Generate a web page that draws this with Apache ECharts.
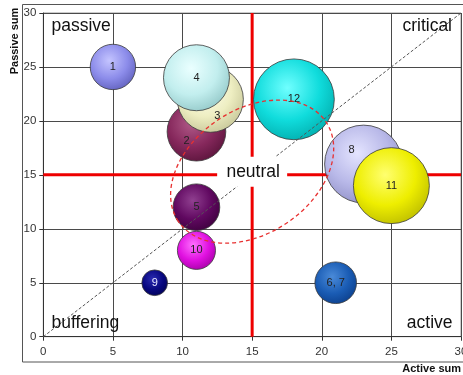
<!DOCTYPE html>
<html>
<head>
<meta charset="utf-8">
<script src="https://cdn.jsdelivr.net/npm/echarts@6/dist/echarts.min.js"></script>
<style>
  html, body { margin: 0; padding: 0; background: #fff; }
  #chart { width: 463px; height: 375px; }
</style>
</head>
<body>
<div id="chart"></div>
<script>
// Influence matrix: active vs passive sums per factor, bubble area = criticality
const factorLabels = ['1', '2', '3', '4', '5', '6, 7', '8', '9', '10', '11', '12'];
const activeSum    = [5, 11, 12, 11, 11, 21, 23, 8, 11, 25, 18];
const passiveSum   = [25, 19, 22, 24, 12, 5, 16, 5, 8, 14, 22];
const criticality  = [125, 209, 264, 264, 132, 105, 368, 40, 88, 350, 396];
const axisTicks    = [0, 5, 10, 15, 20, 25, 30];
const quadrantSplit = 15;
const diagonal = [[0, 0], [30, 30]];

// sphere shading per factor: [highlight, base, shadow]
const sphereColors = [
  ['#c4c4ff', '#8c8cea', '#5c5cb8'],
  ['#b05a88', '#86285c', '#561238'],
  ['#fffff0', '#eeeec2', '#c2c294'],
  ['#eaffff', '#c2eeee', '#8ec4c4'],
  ['#904090', '#600860', '#3a003a'],
  ['#4a8ad8', '#1a5cb4', '#0a3c88'],
  ['#e4e4ff', '#b8b8e8', '#8c8cc4'],
  ['#2a2ab0', '#080880', '#000050'],
  ['#ff70ff', '#e010e0', '#a000a0'],
  ['#ffff70', '#eeee00', '#b8b800'],
  ['#70ffff', '#10dcdc', '#00a8a8']
];
const labelOffsets = { '2': [-10, 9], '3': [7, 17], '8': [-12, -14] };
const labelColors = { '9': '#e8e8ff' };

const FONT = 'Liberation Sans, Arial, sans-serif';

const bubbles = factorLabels.map((name, i) => {
  const c = sphereColors[i];
  return {
    name: name,
    value: [activeSum[i], passiveSum[i], criticality[i]],
    itemStyle: {
      color: {
        type: 'radial', x: 0.42, y: 0.36, r: 0.72,
        colorStops: [
          { offset: 0, color: c[0] },
          { offset: 0.55, color: c[1] },
          { offset: 1, color: c[2] }
        ]
      }
    },
    label: {
      offset: labelOffsets[name] || [0, 0],
      color: labelColors[name] || '#222'
    }
  };
});

const chart = echarts.init(document.getElementById('chart'), null, { renderer: 'canvas' });

const axisCommon = {
  type: 'value',
  min: axisTicks[0],
  max: axisTicks[axisTicks.length - 1],
  interval: axisTicks[1] - axisTicks[0],
  axisLine: { show: true, lineStyle: { color: '#333', width: 1 } },
  axisTick: { show: true, length: 4, lineStyle: { color: '#333' } },
  splitLine: { show: true, lineStyle: { color: '#4a4a4a', width: 1 } },
  axisLabel: { color: '#333', fontFamily: FONT, fontSize: 11.5 }
};

chart.setOption({
  animation: false,
  backgroundColor: '#fff',
  grid: {
    left: 43.3, right: 2, top: 13, bottom: 38.3,
    outerBoundsMode: 'none', containLabel: false,
    show: true, borderColor: '#999', borderWidth: 1, backgroundColor: 'transparent'
  },
  xAxis: Object.assign({}, axisCommon, {
    axisLabel: Object.assign({}, axisCommon.axisLabel, { margin: 9 })
  }),
  yAxis: Object.assign({}, axisCommon, {
    axisLabel: Object.assign({}, axisCommon.axisLabel, { margin: 7 })
  }),
  series: [
    {
      name: 'split-h', type: 'line', z: 1, silent: true, symbol: 'none',
      data: [[axisTicks[0], quadrantSplit], [axisTicks[axisTicks.length - 1], quadrantSplit]],
      lineStyle: { color: '#ee0000', width: 3 }
    },
    {
      name: 'split-v', type: 'line', z: 1, silent: true, symbol: 'none',
      data: [[quadrantSplit, axisTicks[0]], [quadrantSplit, axisTicks[axisTicks.length - 1]]],
      lineStyle: { color: '#ee0000', width: 3 }
    },
    {
      name: 'factors', type: 'scatter', z: 3,
      data: bubbles,
      symbolSize: v => 4.06 * Math.sqrt(v[2]),
      itemStyle: { borderColor: '#3a3a3a', borderWidth: 0.8, opacity: 1 },
      emphasis: { disabled: true },
      label: {
        show: true, position: 'inside', formatter: '{b}',
        fontFamily: FONT, fontSize: 11
      }
    },
    {
      name: 'diagonal', type: 'line', z: 4, silent: true, symbol: 'none',
      data: diagonal,
      lineStyle: { color: '#555', width: 1, type: [3, 2] }
    }
  ]
});

// neutral zone ellipse, label boxes and axis titles
const center = chart.convertToPixel({ gridIndex: 0 }, [quadrantSplit, quadrantSplit]);
const zone = chart.convertToPixel({ gridIndex: 0 }, [quadrantSplit, 15.3]);

chart.setOption({
  graphic: [
    {
      type: 'rect', silent: true, z: 0,
      shape: { x: 22.5, y: 4.5, width: 470, height: 357.5 },
      style: { fill: 'none', stroke: '#555', lineWidth: 1 }
    },
    {
      type: 'ellipse', silent: true, z: 50,
      x: zone[0], y: zone[1], rotation: 34 * Math.PI / 180,
      shape: { cx: 0, cy: 0, rx: 89, ry: 62 },
      style: { fill: 'none', stroke: '#e83030', lineWidth: 1.3, lineDash: [4, 3] }
    },
    {
      type: 'rect', silent: true, z: 60,
      shape: { x: center[0] - 35, y: center[1] - 18, width: 70, height: 30 },
      style: { fill: '#fff' }
    },
    {
      type: 'text', silent: true, z: 61,
      style: { text: 'neutral', x: center[0] + 1, y: center[1] - 3, font: '17.5px ' + FONT,
               fill: '#111', textAlign: 'center', textVerticalAlign: 'middle' }
    },
    {
      type: 'text', silent: true, z: 61,
      style: { text: 'passive', x: 51.5, y: 26.3, font: '17.5px ' + FONT,
               fill: '#111', textAlign: 'left', textVerticalAlign: 'middle' }
    },
    {
      type: 'text', silent: true, z: 61,
      style: { text: 'critical', x: 452, y: 26.3, font: '17.5px ' + FONT,
               fill: '#111', textAlign: 'right', textVerticalAlign: 'middle' }
    },
    {
      type: 'text', silent: true, z: 61,
      style: { text: 'buffering', x: 51.5, y: 323, font: '17.5px ' + FONT,
               fill: '#111', textAlign: 'left', textVerticalAlign: 'middle' }
    },
    {
      type: 'text', silent: true, z: 61,
      style: { text: 'active', x: 452.5, y: 323, font: '17.5px ' + FONT,
               fill: '#111', textAlign: 'right', textVerticalAlign: 'middle' }
    },
    {
      type: 'text', silent: true, z: 61,
      style: { text: 'Active sum', x: 461, y: 369, font: 'bold 11px ' + FONT,
               fill: '#111', textAlign: 'right', textVerticalAlign: 'middle' }
    },
    {
      type: 'text', silent: true, z: 61,
      x: 14.5, y: 41, rotation: Math.PI / 2,
      style: { text: 'Passive sum', x: 0, y: 0, font: 'bold 11px ' + FONT,
               fill: '#111', textAlign: 'center', textVerticalAlign: 'middle' }
    }
  ]
});
</script>
</body>
</html>
